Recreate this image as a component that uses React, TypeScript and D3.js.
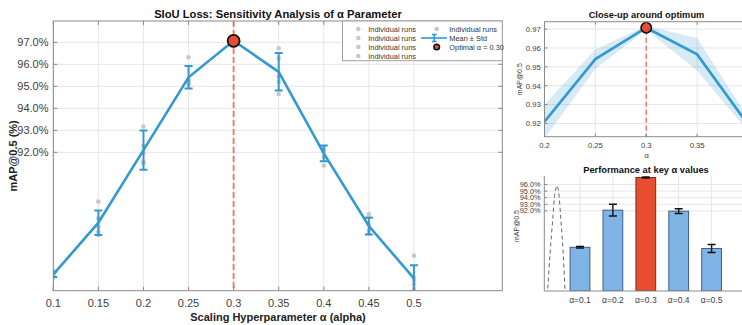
import React from "react";
import * as d3 from "d3";

// Scaling hyperparameter values tested
const alphas = [0.1, 0.15, 0.2, 0.25, 0.3, 0.35, 0.4, 0.45, 0.5];
// Mean and standard deviation of mAP@0.5 (%) over runs
const meanMap = [86.45, 88.8, 92.1, 95.41, 97.07, 95.66, 91.95, 88.65, 86.27];
const stdMap = [0.12, 0.56, 0.89, 0.51, 0.1, 0.85, 0.36, 0.38, 0.6];
// Individual runs (one array per run, aligned with alphas)
const run1 = [86.5, 89.76, 93.17, 96.32, 96.8, 96.73, 92.2, 89.2, 87.3];
const run2 = [86.4, 88.62, 91.57, 95.3, 97.0, 96.27, 92.0, 89.1, 86.3];
const run3 = [86.3, 88.39, 91.5, 95.15, 97.1, 95.44, 91.8, 88.7, 86.2];
const run4 = [86.6, 88.24, 92.3, 95.2, 97.2, 95.21, 91.4, 88.45, 85.8];
const run5 = [86.45, 89.0, 91.96, 95.1, 97.15, 94.65, 92.1, 88.3, 86.0];
const runs = [run1, run2, run3, run4, run5];

const optimalAlpha = 0.3;
const mainYTicks = [92, 93, 94, 95, 96, 97];
const mainXTicks = [0.1, 0.15, 0.2, 0.25, 0.3, 0.35, 0.4, 0.45, 0.5];

const zoomXTicks = [0.2, 0.25, 0.3, 0.35];
const zoomYTicks = [0.92, 0.93, 0.94, 0.95, 0.96, 0.97];

// Bar panel: key alpha values
const keyIdx = [0, 2, 4, 6, 8];
const keyLabels = ["α=0.1", "α=0.2", "α=0.3", "α=0.4", "α=0.5"];
const barYTicks = [92, 93, 94, 95, 96];
// Dashed reference curve drawn in the bar panel (x in alpha units)
const curveAlpha = [0.0, 0.02, 0.09, 0.17, 0.24, 0.3, 0.34, 0.42, 0.49, 0.545, 0.57];
const curveVal = [77.0, 79.85, 85.5, 90.6, 94.7, 95.85, 95.2, 90.6, 85.5, 79.85, 77.5];

const BLUE = "#3399d0";
const RED = "#e64d31";
const RED_DASH = "#ea8472";
const GRID = "#e6e6e6";
const AXIS = "#8a8a8a";
const TICK_TXT = "#404040";
const FONT = "'Liberation Sans', Arial, Helvetica, sans-serif";

export default function App() {
  // ---------- main panel ----------
  const mx = d3.scaleLinear().domain([0.1, 0.598]).range([53.3, 502.3]);
  const my = d3.scaleLinear().domain([85.71, 97.97]).range([290.7, 21]);
  const mLeft = 53.3, mRight = 502.3, mTop = 21, mBottom = 290.7;
  const meanLine = d3
    .line<number>()
    .x((_, i) => mx(alphas[i]))
    .y((d) => my(d));

  // ---------- close-up panel ----------
  const zx = d3.scaleLinear().domain([0.2, 0.4]).range([544.5, 748]);
  const zy = d3.scaleLinear().domain([0.913, 0.9739]).range([136.7, 21.7]);
  const zLeft = 544.5, zRight = 748, zTop = 21.7, zBottom = 136.7;
  const zLine = d3
    .line<number>()
    .x((_, i) => zx(alphas[i]))
    .y((d) => zy(d / 100));
  const zArea = d3
    .area<number>()
    .x((_, i) => zx(alphas[i]))
    .y0((d, i) => zy((d - stdMap[i]) / 100))
    .y1((d, i) => zy((d + stdMap[i]) / 100));
  const optIdx = alphas.indexOf(optimalAlpha);

  // ---------- bar panel ----------
  const bx = d3.scaleLinear().domain([-0.085, 6]).range([544.3, 744.5]);
  const by = d3.scaleLinear().domain([79.8, 97.3]).range([291, 176]);
  const bLeft = 544.3, bRight = 744.5, bTop = 176, bBottom = 291;
  const barW = bx(0.6) - bx(0);
  const curve = d3
    .line<number>()
    .x((d) => bx(d))
    .y((_, i) => by(curveVal[i]))
    .curve(d3.curveCatmullRom);

  return (
    <svg
      width={742}
      height={325}
      style={{ position: "absolute", left: 0, top: 0, background: "#fff" }}
      fontFamily={FONT}
    >
      <defs>
        <clipPath id="mainClip">
          <rect x={mLeft} y={mTop} width={mRight - mLeft} height={mBottom - mTop} />
        </clipPath>
        <clipPath id="zoomClip">
          <rect x={zLeft} y={zTop} width={zRight - zLeft} height={zBottom - zTop} />
        </clipPath>
        <clipPath id="barClip">
          <rect x={bLeft} y={bTop - 10} width={bRight - bLeft} height={bBottom - bTop + 10} />
        </clipPath>
      </defs>
      <rect x={0} y={0} width={742} height={325} fill="#fff" />

      {/* ===== Main sensitivity panel ===== */}
      <g>
        {mainXTicks.map((t) => (
          <line key={"gx" + t} x1={mx(t)} x2={mx(t)} y1={mTop} y2={mBottom} stroke={GRID} />
        ))}
        {mainYTicks.map((t) => (
          <line key={"gy" + t} x1={mLeft} x2={mRight} y1={my(t)} y2={my(t)} stroke={GRID} />
        ))}
        <line
          x1={mx(optimalAlpha)}
          x2={mx(optimalAlpha)}
          y1={mTop}
          y2={mBottom}
          stroke={RED_DASH}
          strokeWidth={2}
          strokeDasharray="6,3"
        />
        <g clipPath="url(#mainClip)">
          {runs.map((r, ri) =>
            r.map((v, i) => (
              <circle key={`r${ri}-${i}`} cx={mx(alphas[i])} cy={my(v)} r={2.3} fill="#c8c8c8" />
            ))
          )}
          <path d={meanLine(meanMap) || ""} fill="none" stroke={BLUE} strokeWidth={2.6} />
          {meanMap.map((m, i) => {
            const x = mx(alphas[i]);
            const y1 = my(m - stdMap[i]);
            const y2 = my(m + stdMap[i]);
            return (
              <g key={"eb" + i} stroke={BLUE} strokeWidth={2}>
                <line x1={x} x2={x} y1={y1} y2={y2} />
                <line x1={x - 4} x2={x + 4} y1={y1} y2={y1} />
                <line x1={x - 4} x2={x + 4} y1={y2} y2={y2} />
              </g>
            );
          })}
        </g>
        <circle
          cx={mx(optimalAlpha)}
          cy={my(meanMap[optIdx])}
          r={6}
          fill={RED}
          stroke="#111"
          strokeWidth={1.8}
        />
        {/* box and ticks */}
        <rect x={mLeft} y={mTop} width={mRight - mLeft} height={mBottom - mTop} fill="none" stroke={AXIS} />
        {mainXTicks.map((t) => (
          <g key={"tx" + t}>
            <line x1={mx(t)} x2={mx(t)} y1={mBottom} y2={mBottom - 4} stroke={AXIS} />
            <line x1={mx(t)} x2={mx(t)} y1={mTop} y2={mTop + 4} stroke={AXIS} />
            <text x={mx(t)} y={306.5} fontSize={11} fill={TICK_TXT} textAnchor="middle">
              {String(t)}
            </text>
          </g>
        ))}
        {mainYTicks.map((t) => (
          <g key={"ty" + t}>
            <line x1={mLeft} x2={mLeft + 4} y1={my(t)} y2={my(t)} stroke={AXIS} />
            <line x1={mRight} x2={mRight - 4} y1={my(t)} y2={my(t)} stroke={AXIS} />
            <text x={48.5} y={my(t) + 4} fontSize={11} fill={TICK_TXT} textAnchor="end">
              {t.toFixed(1) + "%"}
            </text>
          </g>
        ))}
        <text x={278} y={18} fontSize={11.2} fontWeight="bold" textAnchor="middle" fill="#111">
          SIoU Loss: Sensitivity Analysis of α Parameter
        </text>
        <text x={278} y={320.5} fontSize={11} fontWeight="bold" textAnchor="middle" fill="#222">
          Scaling Hyperparameter α (alpha)
        </text>
        <text
          transform={`translate(16.5, ${(mTop + mBottom) / 2}) rotate(-90)`}
          fontSize={11}
          fontWeight="bold"
          textAnchor="middle"
          fill="#222"
        >
          mAP@0.5 (%)
        </text>

        {/* legend */}
        <g fontSize={7.4} fill="#333">
          <rect x={342.5} y={21} width={159.8} height={39.7} fill="#fff" stroke="#a0a0a0" />
          {[0, 1, 2, 3].map((k) => (
            <g key={"lg" + k}>
              <circle cx={358.3} cy={29 + k * 9} r={2.3} fill="#c8c8c8" />
              <text x={368.3} y={29 + k * 9 + 2.6}>Individual runs</text>
            </g>
          ))}
          <circle cx={436.7} cy={29} r={2.3} fill="#c8c8c8" />
          <text x={449.3} y={31.6}>Individual runs</text>
          <g stroke={BLUE} strokeWidth={1.6}>
            <line x1={421} x2={447} y1={38} y2={38} />
            <line x1={434.3} x2={434.3} y1={34.5} y2={41.5} />
            <line x1={432} x2={436.6} y1={34.5} y2={34.5} />
            <line x1={432} x2={436.6} y1={41.5} y2={41.5} />
          </g>
          <text x={449.3} y={40.6}>Mean ± Std</text>
          <circle cx={436.7} cy={47} r={2.8} fill={RED} stroke="#111" strokeWidth={1.5} />
          <text x={449.3} y={49.6}>Optimal α = 0.30</text>
        </g>
      </g>

      {/* ===== Close-up panel ===== */}
      <g>
        {zoomXTicks.map((t) => (
          <line key={"zgx" + t} x1={zx(t)} x2={zx(t)} y1={zTop} y2={zBottom} stroke={GRID} />
        ))}
        {zoomYTicks.map((t) => (
          <line key={"zgy" + t} x1={zLeft} x2={zRight} y1={zy(t)} y2={zy(t)} stroke={GRID} />
        ))}
        <g clipPath="url(#zoomClip)">
          <path d={zArea(meanMap) || ""} fill={BLUE} fillOpacity={0.2} stroke="none" />
          <line
            x1={zx(optimalAlpha)}
            x2={zx(optimalAlpha)}
            y1={zTop}
            y2={zBottom}
            stroke={RED_DASH}
            strokeWidth={1.6}
            strokeDasharray="5,3"
          />
          <path d={zLine(meanMap) || ""} fill="none" stroke={BLUE} strokeWidth={2.6} />
        </g>
        <circle
          cx={zx(optimalAlpha)}
          cy={zy(meanMap[optIdx] / 100)}
          r={5.2}
          fill={RED}
          stroke="#111"
          strokeWidth={1.6}
        />
        <rect x={zLeft} y={zTop} width={zRight - zLeft} height={zBottom - zTop} fill="none" stroke={AXIS} />
        {zoomXTicks.map((t) => (
          <g key={"ztx" + t}>
            <line x1={zx(t)} x2={zx(t)} y1={zBottom} y2={zBottom - 3} stroke={AXIS} />
            <line x1={zx(t)} x2={zx(t)} y1={zTop} y2={zTop + 3} stroke={AXIS} />
            <text x={zx(t)} y={148} fontSize={7.7} fill={TICK_TXT} textAnchor="middle">
              {String(t)}
            </text>
          </g>
        ))}
        {zoomYTicks.map((t) => (
          <g key={"zty" + t}>
            <line x1={zLeft} x2={zLeft + 3} y1={zy(t)} y2={zy(t)} stroke={AXIS} />
            <text x={540.7} y={zy(t) + 2.8} fontSize={7.7} fill={TICK_TXT} textAnchor="end">
              {t.toFixed(2)}
            </text>
          </g>
        ))}
        <text x={646.5} y={17.5} fontSize={9.3} fontWeight="bold" textAnchor="middle" fill="#111">
          Close-up around optimum
        </text>
        <text x={646.5} y={158} fontSize={8} textAnchor="middle" fill={TICK_TXT}>
          α
        </text>
        <text
          transform={`translate(522, ${(zTop + zBottom) / 2}) rotate(-90)`}
          fontSize={7}
          textAnchor="middle"
          fill={TICK_TXT}
        >
          mAP@0.5
        </text>
      </g>

      {/* ===== Bar panel ===== */}
      <g>
        {keyIdx.map((_, k) => (
          <line key={"bgx" + k} x1={bx(k + 1)} x2={bx(k + 1)} y1={bTop} y2={bBottom} stroke={GRID} />
        ))}
        {barYTicks.map((t) => (
          <line key={"bgy" + t} x1={bLeft} x2={bRight} y1={by(t)} y2={by(t)} stroke={GRID} />
        ))}
        <g clipPath="url(#barClip)">
          <path
            d={curve(curveAlpha) || ""}
            fill="none"
            stroke="#666"
            strokeWidth={1}
            strokeDasharray="4,3"
          />
          {keyIdx.map((idx, k) => {
            const v = meanMap[idx];
            const isOpt = alphas[idx] === optimalAlpha;
            const cx = bx(k + 1);
            return (
              <rect
                key={"bar" + k}
                x={cx - barW / 2}
                y={by(v)}
                width={barW}
                height={bBottom - by(v)}
                fill={isOpt ? RED : "#80b3e6"}
                stroke={isOpt ? "#7a2a1a" : "#3d5f85"}
                strokeWidth={1}
              />
            );
          })}
          {keyIdx.map((idx, k) => {
            const v = meanMap[idx];
            const s = stdMap[idx];
            const cx = bx(k + 1);
            const y1 = by(v - s);
            const y2 = by(v + s);
            return (
              <g key={"beb" + k} stroke="#111" strokeWidth={1.4}>
                <line x1={cx} x2={cx} y1={y1} y2={y2} />
                <line x1={cx - 4} x2={cx + 4} y1={y1} y2={y1} />
                <line x1={cx - 4} x2={cx + 4} y1={y2} y2={y2} />
              </g>
            );
          })}
        </g>
        <line x1={bLeft} x2={bLeft} y1={bTop} y2={bBottom} stroke={AXIS} />
        <line x1={bLeft} x2={bRight} y1={bBottom} y2={bBottom} stroke={AXIS} />
        {barYTicks.map((t) => (
          <g key={"bty" + t}>
            <line x1={bLeft} x2={bLeft + 3} y1={by(t)} y2={by(t)} stroke={AXIS} />
            <text x={540.7} y={by(t) + 2.6} fontSize={7.4} fill={TICK_TXT} textAnchor="end">
              {t.toFixed(1) + "%"}
            </text>
          </g>
        ))}
        {keyLabels.map((lab, k) => (
          <text key={"bl" + k} x={bx(k + 1)} y={302.5} fontSize={8.5} fill={TICK_TXT} textAnchor="middle">
            {lab}
          </text>
        ))}
        <text x={646} y={173} fontSize={9.3} fontWeight="bold" textAnchor="middle" fill="#111">
          Performance at key α values
        </text>
        <text
          transform={`translate(518.5, 226) rotate(-90)`}
          fontSize={7}
          textAnchor="middle"
          fill={TICK_TXT}
        >
          mAP@0.5
        </text>
      </g>
    </svg>
  );
}
